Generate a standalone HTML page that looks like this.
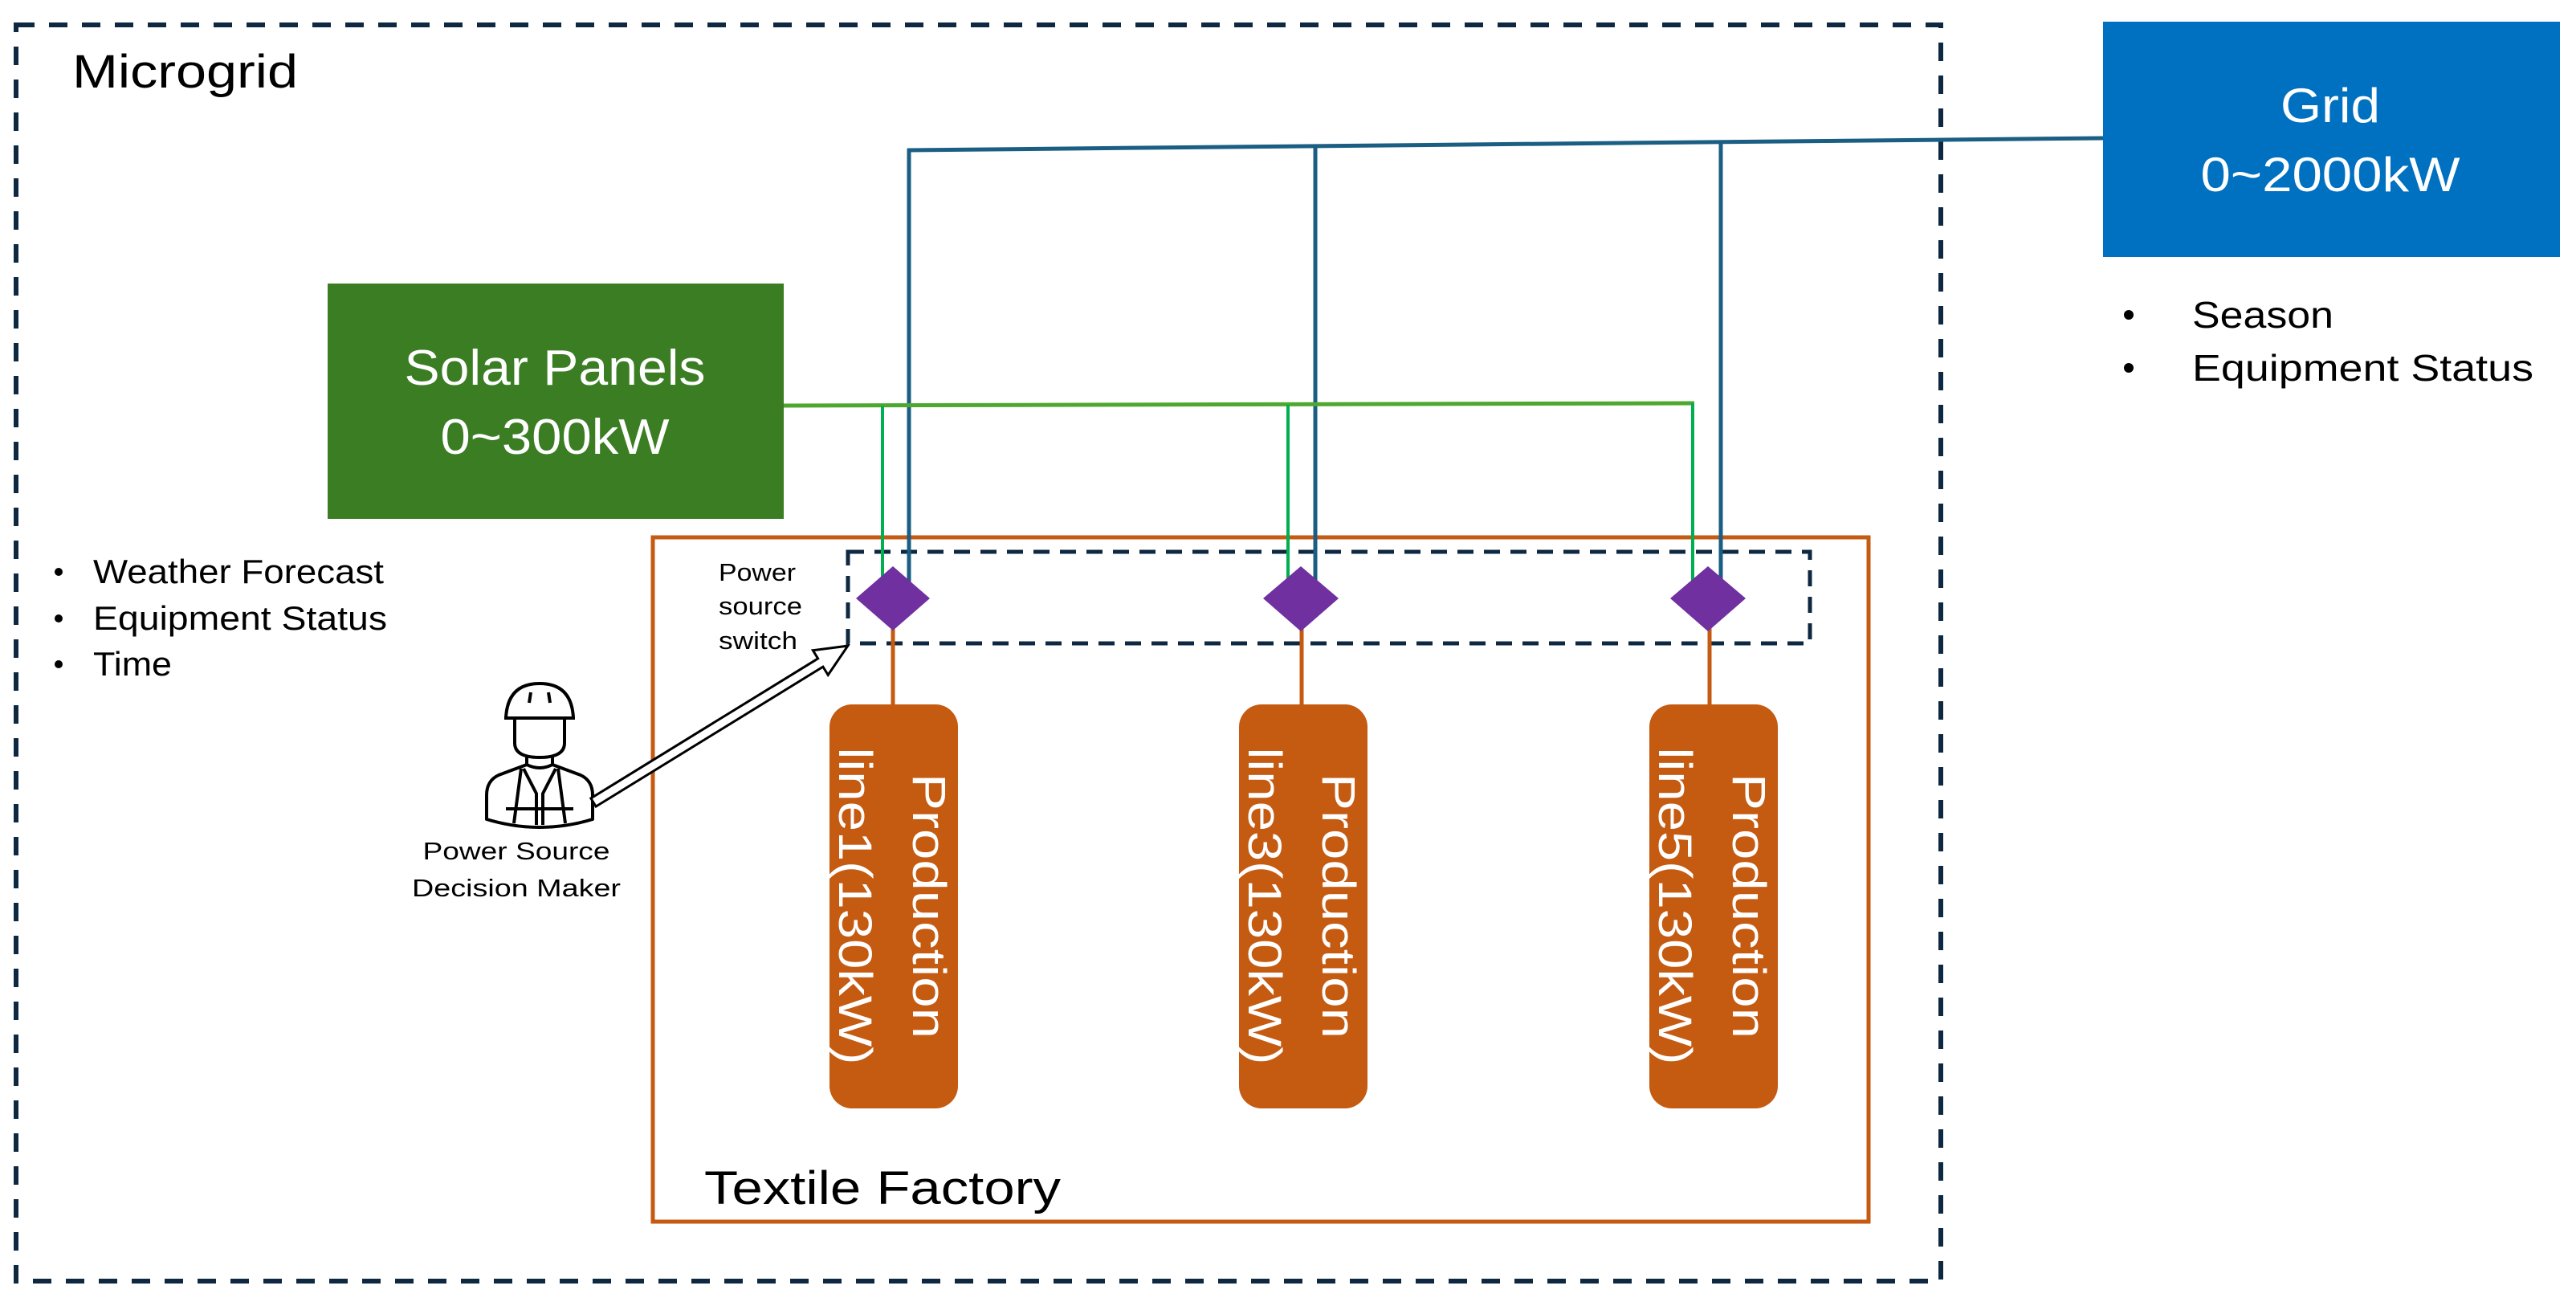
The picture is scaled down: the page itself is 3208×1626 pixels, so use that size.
<!DOCTYPE html>
<html><head><meta charset="utf-8"><style>
html,body{margin:0;padding:0;background:#fff;}
svg{display:block;}
text{font-family:"Liberation Sans",sans-serif;}
</style></head><body>
<svg width="3208" height="1626" viewBox="0 0 3208 1626" xmlns="http://www.w3.org/2000/svg">
<rect x="0" y="0" width="3208" height="1626" fill="#fff"/>
<!-- Microgrid dashed box -->
<rect x="20" y="31" width="2397" height="1564" fill="none" stroke="#0E2841" stroke-width="6" stroke-dasharray="23,18"/>
<text x="90" y="109" font-size="58" fill="#000" textLength="281" lengthAdjust="spacingAndGlyphs">Microgrid</text>

<!-- Grid box -->
<rect x="2619" y="27" width="569" height="293" fill="#0070C0"/>
<text x="2902" y="152" font-size="60" fill="#fff" text-anchor="middle" textLength="124" lengthAdjust="spacingAndGlyphs">Grid</text>
<text x="2902" y="238" font-size="60" fill="#fff" text-anchor="middle" textLength="323" lengthAdjust="spacingAndGlyphs">0~2000kW</text>
<circle cx="2651" cy="392" r="6" fill="#000"/>
<circle cx="2651" cy="458" r="6" fill="#000"/>
<text x="2730" y="408" font-size="46" fill="#000" textLength="176" lengthAdjust="spacingAndGlyphs">Season</text>
<text x="2730" y="474" font-size="46" fill="#000" textLength="425" lengthAdjust="spacingAndGlyphs">Equipment Status</text>

<!-- Solar box -->
<rect x="408" y="353" width="568" height="293" fill="#3B7D23"/>
<text x="691" y="479" font-size="62" fill="#fff" text-anchor="middle" textLength="375" lengthAdjust="spacingAndGlyphs">Solar Panels</text>
<text x="691" y="565" font-size="62" fill="#fff" text-anchor="middle" textLength="285" lengthAdjust="spacingAndGlyphs">0~300kW</text>

<!-- Left bullets -->
<circle cx="73" cy="712" r="5" fill="#000"/>
<circle cx="73" cy="770" r="5" fill="#000"/>
<circle cx="73" cy="827" r="5" fill="#000"/>
<text x="116" y="726" font-size="42" fill="#000" textLength="362" lengthAdjust="spacingAndGlyphs">Weather Forecast</text>
<text x="116" y="784" font-size="42" fill="#000" textLength="366" lengthAdjust="spacingAndGlyphs">Equipment Status</text>
<text x="116" y="841" font-size="42" fill="#000" textLength="98" lengthAdjust="spacingAndGlyphs">Time</text>

<!-- Factory box -->
<rect x="813" y="669" width="1514" height="852" fill="none" stroke="#C55A11" stroke-width="5"/>
<text x="877" y="1499" font-size="58" fill="#000" textLength="444" lengthAdjust="spacingAndGlyphs">Textile Factory</text>

<!-- Switch dashed box -->
<rect x="1056" y="687" width="1198" height="114" fill="none" stroke="#0E2841" stroke-width="5" stroke-dasharray="20,13"/>
<text x="895" y="723" font-size="31" fill="#000" textLength="96" lengthAdjust="spacingAndGlyphs">Power</text>
<text x="895" y="765" font-size="31" fill="#000" textLength="104" lengthAdjust="spacingAndGlyphs">source</text>
<text x="895" y="808" font-size="31" fill="#000" textLength="98" lengthAdjust="spacingAndGlyphs">switch</text>

<!-- Blue grid lines -->
<line x1="1130" y1="187" x2="2619" y2="172" stroke="#1A5E83" stroke-width="5"/>
<line x1="1132" y1="185" x2="1132" y2="730" stroke="#1A5E83" stroke-width="5"/>
<line x1="1638" y1="182" x2="1638" y2="730" stroke="#1A5E83" stroke-width="5"/>
<line x1="2143" y1="177" x2="2143" y2="730" stroke="#1A5E83" stroke-width="5"/>

<!-- Green solar lines -->
<line x1="976" y1="505" x2="2110" y2="502" stroke="#4EA72E" stroke-width="5"/>
<line x1="1099" y1="505" x2="1099" y2="730" stroke="#00B050" stroke-width="4"/>
<line x1="1604" y1="504" x2="1604" y2="730" stroke="#00B050" stroke-width="4"/>
<line x1="2108" y1="502" x2="2108" y2="730" stroke="#00B050" stroke-width="4"/>

<!-- Orange connectors -->
<line x1="1112" y1="780" x2="1112" y2="880" stroke="#C55A11" stroke-width="5"/>
<line x1="1621" y1="780" x2="1621" y2="880" stroke="#C55A11" stroke-width="5"/>
<line x1="2129" y1="780" x2="2129" y2="880" stroke="#C55A11" stroke-width="5"/>

<!-- Diamonds -->
<polygon points="1112,705 1158,745 1112,785 1066,745" fill="#7030A0"/>
<polygon points="1620,705 1667,745 1620,786 1573,745" fill="#7030A0"/>
<polygon points="2127,705 2174,745 2127,786 2080,745" fill="#7030A0"/>

<!-- Production boxes -->
<rect x="1033" y="877" width="160" height="503" rx="28" fill="#C55A11"/>
<rect x="1543" y="877" width="160" height="503" rx="28" fill="#C55A11"/>
<rect x="2054" y="877" width="160" height="503" rx="28" fill="#C55A11"/>
<g transform="translate(1113,1128) rotate(90)">
<text x="0" y="-24" font-size="58" fill="#fff" text-anchor="middle" textLength="330" lengthAdjust="spacingAndGlyphs">Production</text>
<text x="0" y="68" font-size="58" fill="#fff" text-anchor="middle" textLength="395" lengthAdjust="spacingAndGlyphs">line1(130kW)</text>
</g>
<g transform="translate(1623,1128) rotate(90)">
<text x="0" y="-24" font-size="58" fill="#fff" text-anchor="middle" textLength="330" lengthAdjust="spacingAndGlyphs">Production</text>
<text x="0" y="68" font-size="58" fill="#fff" text-anchor="middle" textLength="395" lengthAdjust="spacingAndGlyphs">line3(130kW)</text>
</g>
<g transform="translate(2134,1128) rotate(90)">
<text x="0" y="-24" font-size="58" fill="#fff" text-anchor="middle" textLength="330" lengthAdjust="spacingAndGlyphs">Production</text>
<text x="0" y="68" font-size="58" fill="#fff" text-anchor="middle" textLength="395" lengthAdjust="spacingAndGlyphs">line5(130kW)</text>
</g>

<!-- Person icon -->
<g fill="none" stroke="#000" stroke-width="4" stroke-linejoin="round">
<path d="M630,894 Q632,851 672,851 Q712,851 714,894 Z"/>
<line x1="628" y1="894" x2="716" y2="894"/>
<line x1="661" y1="862" x2="659" y2="875"/>
<line x1="683" y1="862" x2="685" y2="875"/>
<path d="M641,894 L641,925 Q641,943 672,943 Q703,943 703,925 L703,894"/>
<path d="M656,943 L656,952 L621,965 Q606,972 606,990 L606,1020 Q672,1040 738,1020 L738,990 Q738,972 723,965 L688,952 L688,943"/>
<path d="M656,952 Q672,960 688,952"/>
<path d="M649,957 L640,1025 M695,957 L704,1025"/>
<path d="M652,957 L668,988 L668,1027 M692,957 L676,988 L676,1027"/>
<line x1="630" y1="1007" x2="714" y2="1007"/>
</g>
<text x="643" y="1070" font-size="31" fill="#000" text-anchor="middle" textLength="233" lengthAdjust="spacingAndGlyphs">Power Source</text>
<text x="643" y="1116" font-size="31" fill="#000" text-anchor="middle" textLength="260" lengthAdjust="spacingAndGlyphs">Decision Maker</text>

<!-- Block arrow -->
<g transform="translate(739,999) rotate(-31.6)">
<polygon points="0,-6 332,-6 332,-18 372,0 332,18 332,6 0,6" fill="#fff" stroke="#000" stroke-width="3" stroke-linejoin="miter"/>
</g>
</svg>
</body></html>
